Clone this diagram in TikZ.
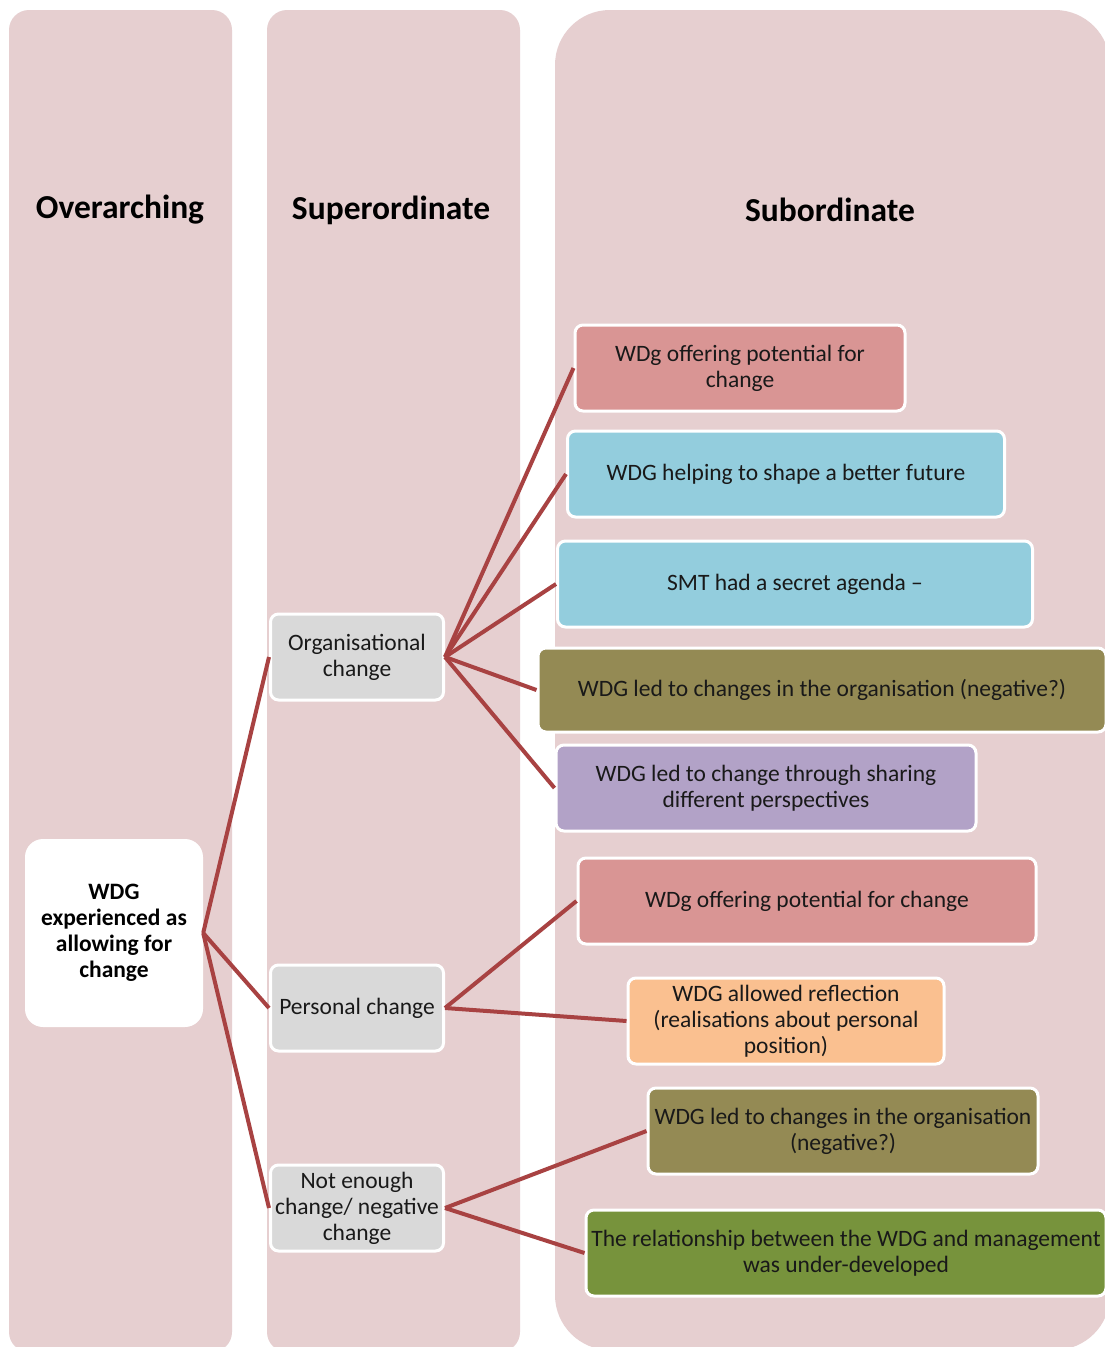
\documentclass[tikz,border=0pt]{standalone}
\usepackage{fontspec}
\setmainfont{Carlito}
\definecolor{colbg}{RGB}{230,207,208}
\definecolor{linkc}{RGB}{168,66,66}
\definecolor{txt}{RGB}{25,25,25}
\definecolor{grayc}{RGB}{217,217,217}
\definecolor{pinkc}{RGB}{217,149,148}
\definecolor{bluec}{RGB}{147,205,221}
\definecolor{olivec}{RGB}{148,138,84}
\definecolor{purplec}{RGB}{178,162,199}
\definecolor{orangec}{RGB}{250,192,144}
\definecolor{greenc}{RGB}{119,147,60}
\begin{document}
\begin{tikzpicture}[x=1pt,y=-1pt,
  hdr/.style={font=\fontsize{33.5}{38}\selectfont\bfseries, text=black},
  box/.style={draw=white, line width=3pt, rounded corners=8pt, align=center,
    font=\fontsize{23.5}{26}\selectfont, text=txt, inner sep=1pt},
  link/.style={draw=linkc, line width=4pt}
]
\clip (0,0) rectangle (1105,1347);
\fill[white] (0,0) rectangle (1105,1347);
% columns
\fill[colbg, rounded corners=20pt] (9,10) rectangle (232,1352);
\fill[colbg, rounded corners=20pt] (267,10) rectangle (520,1352);
\fill[colbg, rounded corners=55pt] (555,10) rectangle (1110,1350);
% headers
\node[hdr] (h1) at (120,210) {Overarching};
\node[hdr] (h2) at (391,210) {Superordinate};
\node[hdr] (h3) at (830,210) {Subordinate};
% overarching
\node[fill=white, rounded corners=18pt, minimum width=178pt, minimum height=188pt,
  align=center, font=\fontsize{23.5}{26}\selectfont\bfseries, text=black] (root) at (114,933)
  {WDG\\experienced as\\allowing for\\change};
% superordinate
\node[box, fill=grayc, minimum width=173pt, minimum height=86pt] (org) at (357,657) {Organisational\\change};
\node[box, fill=grayc, minimum width=173pt, minimum height=86pt] (pers) at (357,1008) {Personal change};
\node[box, fill=grayc, minimum width=173pt, minimum height=86pt] (neg) at (357,1208) {Not enough\\change/ negative\\change};
% subordinate
\node[box, fill=pinkc, minimum width=330pt, minimum height=86pt] (s1) at (740,368) {WDg offering potential for\\change};
\node[box, fill=bluec, minimum width=437pt, minimum height=86pt] (s2) at (786,474) {WDG helping to shape a better future};
\node[box, fill=bluec, minimum width=475pt, minimum height=86pt] (s3) at (795,584) {SMT had a secret agenda –};
\node[box, fill=olivec, minimum width=568pt, minimum height=84pt] (s4) at (822,690) {WDG led to changes in the organisation (negative?)};
\node[box, fill=purplec, minimum width=420pt, minimum height=86pt] (s5) at (766,788) {WDG led to change through sharing\\different perspectives};
\node[box, fill=pinkc, minimum width=458pt, minimum height=86pt] (s6) at (807,901) {WDg offering potential for change};
\node[box, fill=orangec, minimum width=316pt, minimum height=86pt] (s7) at (786,1021) {WDG allowed reflection\\(realisations about personal\\position)};
\node[box, fill=olivec, minimum width=390pt, minimum height=86pt] (s8) at (843,1131) {WDG led to changes in the organisation\\(negative?)};
\node[box, fill=greenc, minimum width=520pt, minimum height=86pt] (s9) at (846,1253) {The relationship between the WDG and management\\was under-developed};
% connectors
\draw[link] (root.east) -- (org.west);
\draw[link] (root.east) -- (pers.west);
\draw[link] (root.east) -- (neg.west);
\draw[link] (org.east) -- (s1.west);
\draw[link] (org.east) -- (s2.west);
\draw[link] (org.east) -- (s3.west);
\draw[link] (org.east) -- (s4.west);
\draw[link] (org.east) -- (s5.west);
\draw[link] (pers.east) -- (s6.west);
\draw[link] (pers.east) -- (s7.west);
\draw[link] (neg.east) -- (s8.west);
\draw[link] (neg.east) -- (s9.west);
\end{tikzpicture}
\end{document}
